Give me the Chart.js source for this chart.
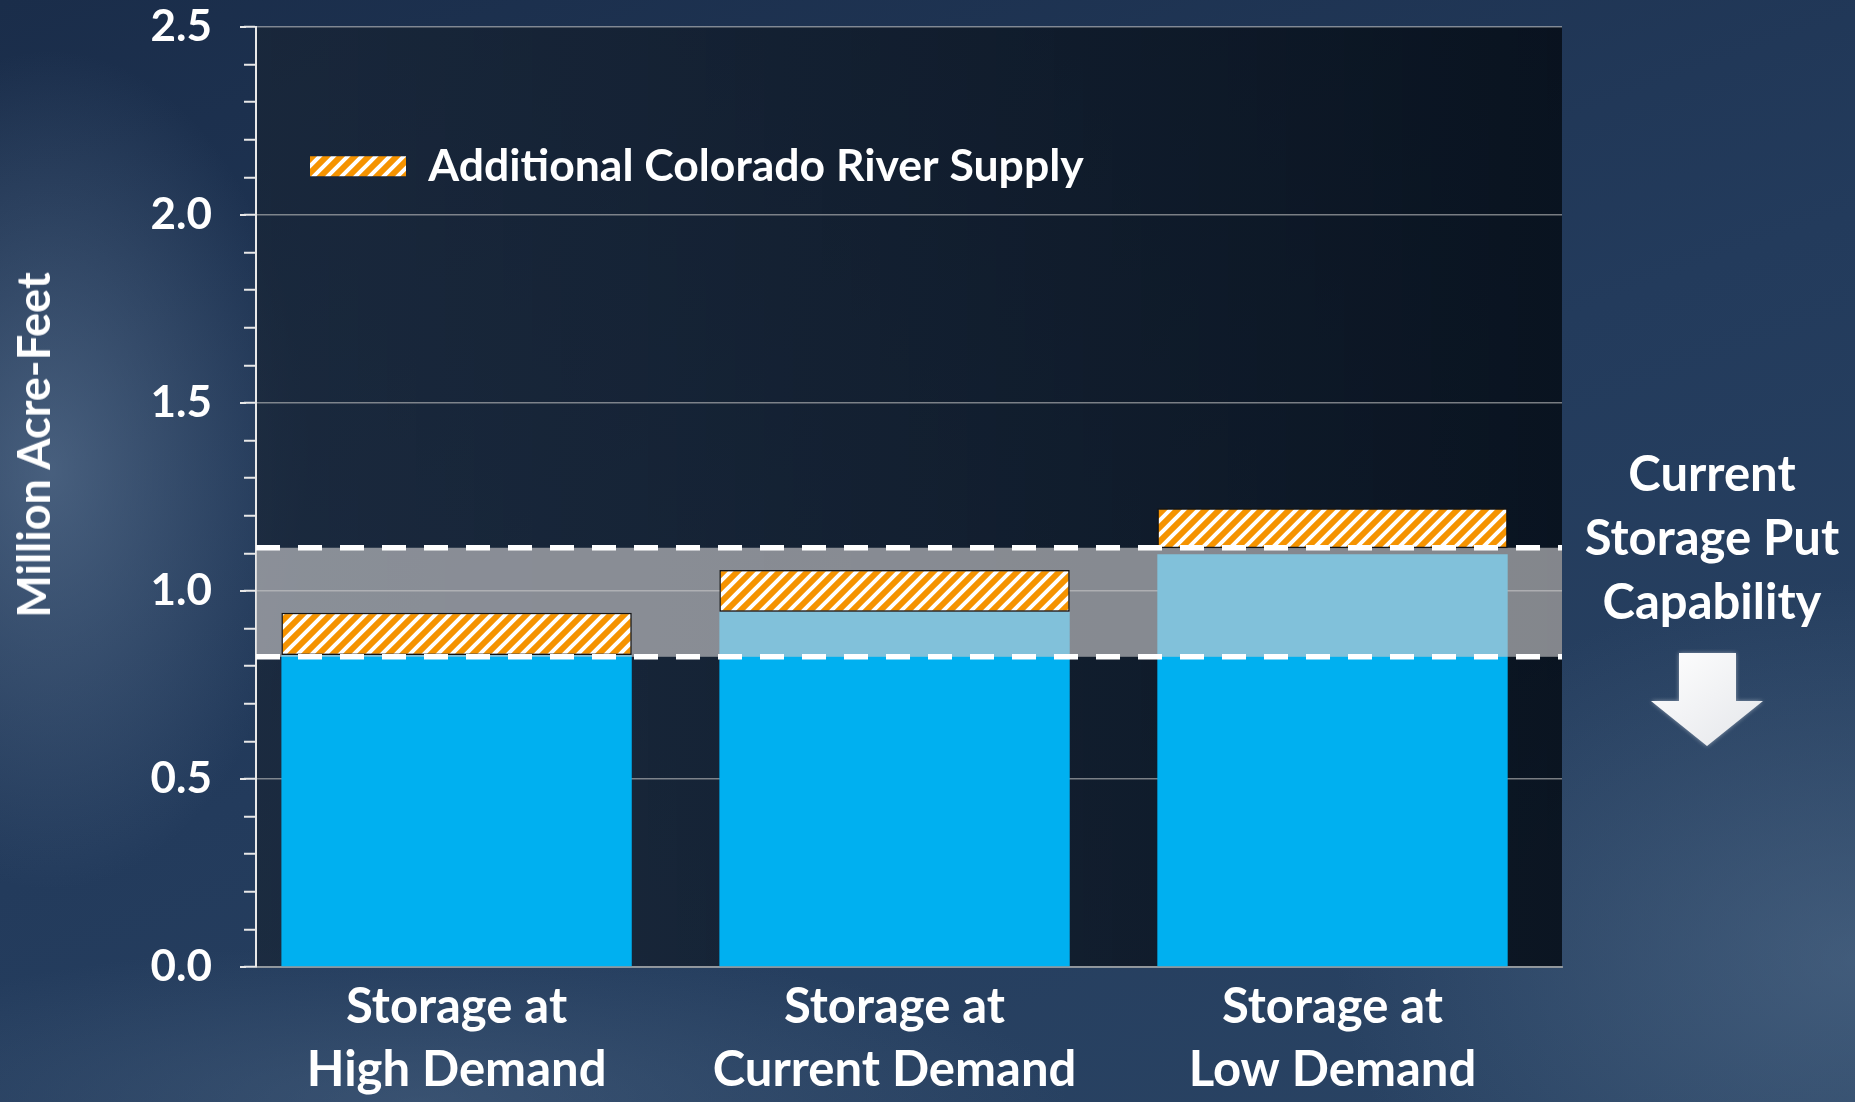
<!DOCTYPE html>
<html lang="en">
  <head>
    <meta charset="UTF-8" />
    <title>Current Storage Put Capability</title>
    <script src="https://cdn.jsdelivr.net/npm/chart.js"></script>
    <style>
      html,
      body {
        margin: 0;
        padding: 0;
      }
      body {
        width: 1855px;
        height: 1102px;
        overflow: hidden;
        font-family: Lato, sans-serif;
        background:
          radial-gradient(ellipse 260px 420px at 50px 470px, rgba(105, 130, 160, 0.55), transparent),
          radial-gradient(ellipse 520px 380px at 1855px 960px, rgba(95, 122, 152, 0.45), transparent),
          radial-gradient(ellipse 650px 160px at 420px 1102px, rgba(80, 105, 135, 0.45), transparent),
          linear-gradient(160deg, #1a2d4a 0%, #233b5c 50%, #2a4464 100%);
      }
      #wrap {
        position: relative;
        width: 1855px;
        height: 1102px;
      }
      #yTitle {
        position: absolute;
        left: 33px;
        top: 445px;
        transform: translate(-50%, -50%) rotate(-90deg);
        white-space: nowrap;
        color: #fff;
        font: bold 45px Lato, sans-serif;
      }
      #capNote {
        position: absolute;
        left: 1712px;
        top: 440px;
        transform: translateX(-50%);
        text-align: center;
        white-space: nowrap;
        color: #fff;
        font: bold 49px Lato, sans-serif;
        line-height: 64px;
      }
      #arrow {
        position: absolute;
        left: 1646px;
        top: 648px;
        filter: drop-shadow(0 0 2px rgba(255, 255, 255, 0.45));
      }
    </style>
  </head>
  <body>
    <div id="wrap">
      <canvas id="chart"></canvas>
      <div id="yTitle">Million Acre-Feet</div>
      <div id="capNote">Current<br />Storage Put<br />Capability</div>
      <svg id="arrow" width="125" height="105" viewBox="0 0 125 105">
        <defs>
          <linearGradient id="ag" x1="0" y1="0" x2="1" y2="1">
            <stop offset="0" stop-color="#ffffff" />
            <stop offset="1" stop-color="#e4e6ea" />
          </linearGradient>
        </defs>
        <polygon points="33,5 90,5 90,53 117,53 61,98 5,53 33,53" fill="url(#ag)" />
      </svg>
    </div>

    <script>
      // chart data
      const categories = [
        ["Storage at", "High Demand"],
        ["Storage at", "Current Demand"],
        ["Storage at", "Low Demand"],
      ];
      const categoryPos = [0, 1, 2];
      const storage = [0.83, 0.945, 1.098]; // blue bars
      const supplyFrom = [0.83, 0.945, 1.114]; // hatched bars (floating)
      const supplyTo = [0.942, 1.056, 1.22];
      const putCapability = [0.825, 1.115]; // grey band, dashed edges

      const isMajor = (v) => Math.abs(v * 2 - Math.round(v * 2)) < 1e-6;

      const canvas = document.getElementById("chart");
      const ctx = canvas.getContext("2d");

      // orange / white "upward diagonal" hatch
      function makeHatch() {
        const c = document.createElement("canvas");
        c.width = 14;
        c.height = 14;
        const g = c.getContext("2d");
        g.fillStyle = "#f59300";
        g.fillRect(0, 0, 14, 14);
        g.strokeStyle = "#ffffff";
        g.lineWidth = 4;
        g.beginPath();
        g.moveTo(-7, 7);
        g.lineTo(7, -7);
        g.moveTo(0, 14);
        g.lineTo(14, 0);
        g.moveTo(7, 21);
        g.lineTo(21, 7);
        g.stroke();
        return ctx.createPattern(c, "repeat");
      }
      const hatch = makeHatch();

      // dark panel behind the plot
      const plotBackground = {
        id: "plotBackground",
        beforeDraw(chart) {
          const a = chart.chartArea;
          const c = chart.ctx;
          const g = c.createLinearGradient(a.left, 0, a.right, 0);
          g.addColorStop(0, "rgba(24, 36, 52, 0.7)");
          g.addColorStop(1, "rgba(6, 14, 24, 0.88)");
          c.save();
          c.fillStyle = g;
          c.fillRect(a.left, a.top, a.right - a.left, a.bottom - a.top);
          c.restore();

          // legend sits inside the plot, below the top edge
          const l = chart.legend;
          if (l) {
            l.top = a.top + 63;
            l.bottom = l.top + l.height;
          }
        },
        // the 0.5 ticks stick out a bit further than the minor ones
        afterDraw(chart) {
          const y = chart.scales.y;
          const c = chart.ctx;
          const x0 = chart.chartArea.left;
          c.save();
          c.strokeStyle = "#e8e8e8";
          c.lineWidth = 2;
          y.ticks.forEach((t) => {
            if (!isMajor(t.value)) return;
            const py = y.getPixelForValue(t.value);
            c.beginPath();
            c.moveTo(x0 - 16, py);
            c.lineTo(x0 - 10, py);
            c.stroke();
          });
          c.restore();
        },
      };

      // put capability band: fill under the hatched bars, dashes on top
      const putBand = {
        id: "putBand",
        beforeDatasetDraw(chart, args) {
          if (args.index !== 1) return;
          const a = chart.chartArea;
          const y = chart.scales.y;
          const top = y.getPixelForValue(putCapability[1]);
          const bottom = y.getPixelForValue(putCapability[0]);
          const c = chart.ctx;
          c.save();
          c.fillStyle = "rgba(205, 203, 205, 0.63)";
          c.fillRect(a.left, top, a.right - a.left, bottom - top);
          c.restore();
        },
        afterDatasetsDraw(chart) {
          const a = chart.chartArea;
          const y = chart.scales.y;
          const c = chart.ctx;
          c.save();
          c.strokeStyle = "#ffffff";
          c.lineWidth = 5.5;
          c.setLineDash([24, 18]);
          putCapability.forEach((v) => {
            const py = y.getPixelForValue(v);
            c.beginPath();
            c.moveTo(a.left, py);
            c.lineTo(a.right, py);
            c.stroke();
          });
          c.restore();
        },
      };

      const boldFont = (size, lineHeight) => ({
        family: "Lato",
        weight: "bold",
        size: size,
        lineHeight: lineHeight || 1.2,
      });

      new Chart(ctx, {
        type: "bar",
        data: {
          datasets: [
            {
              label: "Storage",
              data: categoryPos.map((x, i) => ({ x: x, y: storage[i] })),
              backgroundColor: "#00b0f0",
              borderWidth: 0,
              barPercentage: 0.8,
              categoryPercentage: 1,
              grouped: false,
              order: 2,
            },
            {
              label: "Additional Colorado River Supply",
              data: categoryPos.map((x, i) => ({
                x: x,
                y: [supplyFrom[i], supplyTo[i]],
              })),
              backgroundColor: hatch,
              borderColor: "#141414",
              borderWidth: 1.5,
              borderSkipped: false,
              barPercentage: 0.8,
              categoryPercentage: 1,
              grouped: false,
              order: 1,
            },
          ],
        },
        options: {
          responsive: true,
          maintainAspectRatio: false,
          animation: false,
          layout: { padding: { top: 27, right: 293, bottom: 0, left: 0 } },
          scales: {
            x: {
              type: "linear",
              offset: false,
              min: -0.458,
              max: 2.524,
              afterFit: (scale) => {
                scale.height = 135;
                scale.paddingLeft = 0;
                scale.paddingRight = 0;
              },
              afterBuildTicks: (scale) => {
                scale.ticks = categoryPos.map((v) => ({ value: v }));
              },
              grid: { display: false, drawTicks: false },
              border: { color: "rgba(150, 155, 160, 0.9)", width: 2 },
              ticks: {
                padding: 9,
                maxRotation: 0,
                autoSkip: false,
                color: "#ffffff",
                font: boldFont(49, 63 / 49),
                callback: (v) => categories[v],
              },
            },
            y: {
              min: 0,
              max: 2.5,
              afterFit: (scale) => {
                scale.width = 256;
                scale.paddingTop = 0;
                scale.paddingBottom = 0;
              },
              border: { color: "#e8e8e8", width: 2 },
              grid: {
                color: (c) =>
                  c.tick && isMajor(c.tick.value)
                    ? "rgba(195, 195, 195, 0.6)"
                    : "transparent",
                lineWidth: 1.5,
                tickColor: "#e8e8e8",
                tickWidth: 2,
                tickLength: 12,
              },
              ticks: {
                stepSize: 0.1,
                autoSkip: false,
                padding: 32,
                color: "#ffffff",
                font: boldFont(44),
                callback: (v) => (isMajor(v) ? v.toFixed(1) : ""),
              },
            },
          },
          plugins: {
            tooltip: { enabled: false },
            legend: {
              position: "chartArea",
              align: "start",
              labels: {
                padding: 54,
                boxWidth: 96,
                boxHeight: 20,
                color: "#ffffff",
                font: boldFont(44.5),
                generateLabels: (chart) =>
                  Chart.defaults.plugins.legend.labels
                    .generateLabels(chart)
                    .filter((l) => l.datasetIndex === 1)
                    .map((l) => ({ ...l, lineWidth: 0, strokeStyle: "transparent" })),
              },
            },
          },
        },
        plugins: [plotBackground, putBand],
      });
    </script>
  </body>
</html>
